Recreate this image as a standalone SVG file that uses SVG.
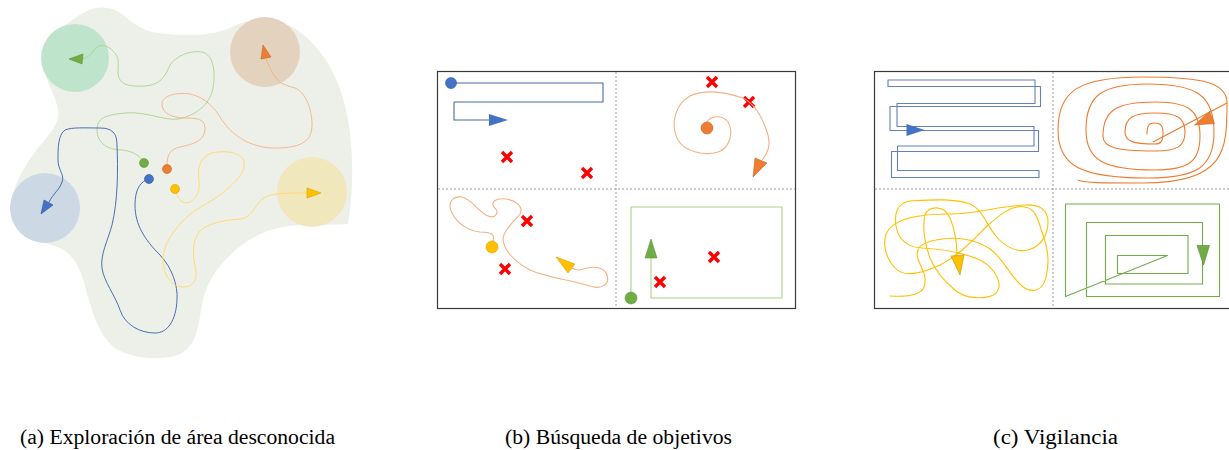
<svg xmlns="http://www.w3.org/2000/svg" width="1229" height="450" viewBox="0 0 1229 450">
<style>
.cap{font-family:"Liberation Serif","Times New Roman",serif;font-size:20px;fill:#000}
.frame{fill:none;stroke:#3a3a3a;stroke-width:1.2}
.div{stroke:#9a9a9a;stroke-width:1;stroke-dasharray:2,2}
.path{fill:none;stroke-width:1.1;stroke-linejoin:round;stroke-linecap:round}
.thin{stroke-width:.9}
.pg{stroke:#A9D18E}.po{stroke:#F4B183}.pb{stroke:#3A5FA8}.py{stroke:#FFD966}
.dotg{fill:#70AD47;stroke:#5E9439;stroke-width:.6}
.doto{fill:#ED7D31;stroke:#C8651F;stroke-width:.6}
.dotb{fill:#4472C4;stroke:#2F5597;stroke-width:.6}
.doty{fill:#FFC000;stroke:#D9A300;stroke-width:.6}
</style>
<defs>
<path id="rx" d="M-3.8,-3.8 L3.8,3.8 M3.8,-3.8 L-3.8,3.8" stroke="#FF0000" stroke-width="3.4" stroke-linecap="square" fill="none"/>
</defs>

<g id="panel-a">
  <path id="area" d="M83,13 C95,6 110,5 122,14 C135,25 145,33 167,34 C185,36 215,36 232,27 C255,15 285,18 305,36 C330,58 345,90 350,133 C354,170 352,200 348,224 C320,226 290,222 265,232 C235,245 210,270 203,300 C198,325 198,345 180,354 C160,362 130,358 115,348 C98,335 92,310 86,290 C80,265 72,252 55,246 C35,240 15,235 12,210 C10,190 22,170 35,152 C48,135 60,125 58,110 C56,95 45,82 44,65 C43,45 55,30 83,13 Z" fill="#EDF0E8"/>
  <g id="goals-a">
    <circle id="goal-green" cx="75" cy="58" r="34" fill="#BFE4CC"/>
    <circle id="goal-brown" cx="265" cy="52" r="35" fill="#E3D3BE"/>
    <circle id="goal-blue" cx="45" cy="208" r="35" fill="#CCD8E3"/>
    <circle id="goal-yellow" cx="312" cy="192" r="35" fill="#F1E7BD"/>
  </g>
  <g id="connectors-a">
    <path class="path thin pg" d="M144,163 C140,155 132,151 122,150 C108,150 97,143 97,130 C97,118 105,115 125,113 C145,111 165,121 178,119 C195,116 210,105 213,88 C216,70 213,55 202,52 C190,50 176,56 170,65 C165,77 160,85 145,86 C128,87 118,84 118,72 C118,62 120,57 112,50 C106,44 98,44 94,50 C91,55 87,58 82,59"/>
    <path class="path thin po" d="M167,165 C167,155 170,149 180,147 C195,144 205,140 205,128 C205,118 195,118 182,118 C170,117 161,112 162,103 C163,96 175,92 190,94 C205,97 215,108 222,120 C232,135 250,148 275,148 C300,148 312,142 312,125 C312,108 305,92 295,88 C285,85 278,84 272,72 C269,65 267,62 266,59"/>
    <path class="path thin pb" d="M149,179 C140,181 135,190 135,205 C135,225 145,240 160,255 C172,268 178,285 177,300 C176,320 168,333 155,333 C140,333 125,325 120,310 C115,295 104,282 102,268 C100,255 108,240 112,225 C118,200 118,170 117,145 C117,133 112,128 100,128 C85,128 72,127 65,130 C58,135 58,148 58,160 C58,170 65,175 62,182 C60,189 53,194 49,202"/>
    <path class="path thin py" d="M176,192 C178,200 184,205 190,202 C198,197 200,190 199,180 C197,168 200,157 212,153 C225,150 242,152 244,162 C246,172 235,183 220,195 C208,204 192,210 182,222 C170,235 162,248 163,262 C164,276 172,287 183,287 C195,287 198,278 195,266 C192,252 193,238 200,231 C208,223 225,220 240,219 C252,218 255,205 262,199 C270,193 285,193 307,193"/>
    <polygon points="69,59 83,54 82,64" fill="#70AD47" stroke="#5E9439" stroke-width=".6"/>
    <polygon points="263,45 261,59 271,57" fill="#ED7D31" stroke="#C8651F" stroke-width=".6"/>
    <polygon points="41,214 44,200 53,205" fill="#4472C4" stroke="#2F5597" stroke-width=".6"/>
    <polygon points="321,193 307,188 307,198" fill="#FFC000" stroke="#D9A300" stroke-width=".6"/>
  </g>
  <g id="robots-a">
    <circle cx="144" cy="163" r="4.5" class="dotg"/>
    <circle cx="167" cy="169" r="4.5" class="doto"/>
    <circle cx="149" cy="179" r="4.5" class="dotb"/>
    <circle cx="175" cy="189" r="4.5" class="doty"/>
  </g>
</g>

<g id="panel-b">
  <rect class="frame" x="437.5" y="71.5" width="358" height="237"/>
  <line class="div" x1="616" y1="72" x2="616" y2="308"/>
  <line class="div" x1="438" y1="189" x2="795" y2="189"/>
  <g id="targets-b">
    <use href="#rx" x="507" y="157"/>
    <use href="#rx" x="587" y="173"/>
    <use href="#rx" x="712" y="82"/>
    <use href="#rx" x="749" y="102"/>
    <use href="#rx" x="527" y="221"/>
    <use href="#rx" x="505" y="269"/>
    <use href="#rx" x="714" y="257"/>
    <use href="#rx" x="660" y="282"/>
  </g>
  <g id="connectors-b">
    <path class="path" stroke="#4A6AA8" stroke-width="1.2" d="M451,83 H603 V102 H454 V120 H490"/>
    <polygon points="489,114 508,120 489,126" fill="#4472C4"/>
    <path class="path po" d="M707,122 C710,116 722,114 728,122 C734,132 730,148 718,152 C705,156 685,152 678,140 C670,125 675,104 690,96 C705,89 725,92 743,98 C755,104 763,118 768,135 C771,147 767,154 762,160"/>
    <polygon points="755,158 767,163 753,177" fill="#ED7D31" stroke="#C8651F" stroke-width=".6"/>
    <path class="path po" d="M493,241 C495,235 492,232 480,232 C470,231 458,225 452,213 C447,203 452,196 462,197 C472,199 478,212 488,216 C496,219 500,212 494,207 C490,202 496,198 505,199 C515,200 524,206 520,214 C514,222 505,228 503,238 C503,250 515,262 530,270 C545,277 570,280 590,286 C602,290 610,284 607,275 C604,266 592,266 583,269 C578,271 575,270 572,268"/>
    <polygon points="556,257 575,264 568,273" fill="#FFC000" stroke="#D9A300" stroke-width=".6"/>
    <path class="path pg" d="M631,298 V207 H782 V298 H651 V258"/>
    <polygon points="645,258 651,239 657,258" fill="#70AD47" stroke="#5E9439" stroke-width=".6"/>
  </g>
  <g id="robots-b">
    <circle cx="451" cy="83" r="5.5" class="dotb"/>
    <circle cx="707" cy="128" r="6" class="doto"/>
    <circle cx="492" cy="247" r="6" class="doty"/>
    <circle cx="631" cy="298" r="6" class="dotg"/>
  </g>
</g>

<g id="panel-c">
  <rect class="frame" x="874.5" y="71.5" width="358" height="237"/>
  <line class="div" x1="1053" y1="72" x2="1053" y2="308"/>
  <line class="div" x1="875" y1="189" x2="1229" y2="189"/>
  <g id="connectors-c">
    <path class="path" stroke="#4A6AA8" stroke-opacity=".85" stroke-width="1.4" d="M888,80 H1035 V103.5 H897 V126.5 H1034 V146 H897.5 V170.5 H1039 V177.5 H891.5 V151.5 H1038.5 V130.5 H890 V106.5 H1040.5 V86.5 H888 Z"/>
    <polygon points="906.5,124 924.5,130 906.5,136" fill="#4472C4"/>
    <path class="path" stroke="#ED7D31" stroke-width="1.3" d="M1147,134 C1147,125.8 1148.8,123 1154,123 C1160.8,123 1163,125.5 1163,133 C1163,141.3 1161,144 1155,144 C1132.5,144 1125,141 1125,132 C1125,117.8 1132.5,113 1155,113 C1177.5,113 1185,117.8 1185,132 C1185,146.3 1177.5,151 1155,151 C1116,151 1103,147.3 1103,136 C1103,110.5 1116,102 1155,102 C1188.8,102 1200,110.5 1200,136 C1200,161.5 1188.8,170 1155,170 C1103.3,170 1086,160 1086,130 C1086,95.5 1101.5,84 1148,84 C1197.5,84 1214,96 1214,132 C1214,166.5 1197.5,178 1148,178 C1080.5,178 1058,166 1058,130 C1058,90.3 1079.3,77 1143,77 C1206,77 1227,83.5 1227,103 C1227,150 1226,183 1143,183 C1100,183 1085,183 1078,180"/>
    <line x1="1227" y1="103" x2="1153" y2="142" stroke="#ED7D31" stroke-width="1.3"/>
    <polygon points="1209.5,111.5 1214.5,123.5 1194.5,125" fill="#ED7D31" stroke="#C8651F" stroke-width=".6"/>
    <path class="path" stroke="#FFC000" stroke-width="1.3" d="M890,296 C905,297 920,296 924,287 C928,277 921,268 918,259 C915,249 920,243 936,240 C955,236 976,239 990,249 C1003,258 1010,276 1022,286 C1032,294 1043,291 1046,277 C1050,262 1047,245 1042,232 C1038,220 1036,209 1025,207 C1012,204 998,216 985,228 C972,241 958,256 940,265 C925,272 905,279 895,268 C884,256 881,238 890,228 C900,217 925,214 950,214 C975,214 1000,206 1025,205 C1040,204 1048,210 1048,222 C1048,236 1040,247 1028,250 C1015,253 1003,245 995,235 C987,225 982,209 970,204 C955,198 928,200 910,201 C897,203 894,214 896,226 C898,238 906,247 922,248 C940,249 962,252 980,260 C995,268 1005,285 995,294 C985,300 965,299 955,290 C945,282 935,270 930,258 C925,245 922,228 925,215 C928,205 945,205 950,218 C955,230 957,245 957,256"/>
    <polygon points="951,256 964,255 960,275" fill="#FFC000" stroke="#BF9000" stroke-width=".6"/>
    <path class="path" stroke="#70AD47" stroke-width="1.3" d="M1065.5,204 H1219.5 V296.5 H1086.5 V222.5 H1202.5 V284 H1105.5 V235.5 H1188 V273.5 H1117.5 V255.5 H1167.5 L1065.5,296.5 Z"/>
    <polygon points="1197,245.5 1209.5,245.5 1203.5,265" fill="#70AD47" stroke="#548235" stroke-width=".6"/>
  </g>
</g>

<g id="captions">
  <text class="cap" x="20" y="444" textLength="315" lengthAdjust="spacingAndGlyphs">(a)  Exploración de área desconocida</text>
  <text class="cap" x="505" y="444" textLength="227" lengthAdjust="spacingAndGlyphs">(b)  Búsqueda de objetivos</text>
  <text class="cap" x="993" y="444" textLength="125" lengthAdjust="spacingAndGlyphs">(c)  Vigilancia</text>
</g>
</svg>
